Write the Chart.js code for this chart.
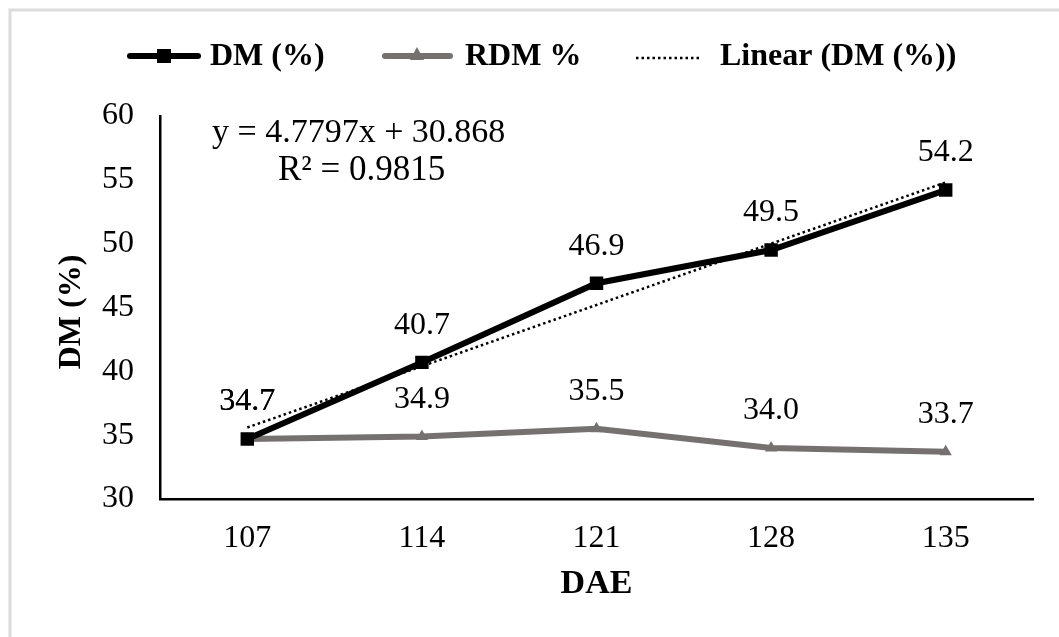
<!DOCTYPE html>
<html>
<head>
    <meta charset="UTF-8">
    <title>DM (%) by DAE</title>
    <script src="https://cdn.jsdelivr.net/npm/chart.js"></script>
    <style>
        body { margin: 0; background: #fff; }
        #wrap { width: 1059px; height: 637px; position: relative; }
    </style>
</head>
<body>
    <div id="wrap">
        <canvas id="myChart" width="1059" height="637"></canvas>
    </div>

    <script>
        // values
        const dae = ['107', '114', '121', '128', '135'];
        const dmValues = [34.7, 40.7, 46.9, 49.5, 54.2];
        const rdmValues = [34.7, 34.9, 35.5, 34.0, 33.7];
        const trendValues = [35.6, 40.4, 45.2, 50.0, 54.8];
        const yTicks = [30, 35, 40, 45, 50, 55, 60];
        const equationLines = ['y = 4.7797x + 30.868', 'R² = 0.9815'];

        const serif = '"Liberation Serif", "Times New Roman", serif';
        const gray = '#767171';

        const extras = {
            id: 'extras',
            afterDraw: (chart) => {
                const { ctx, chartArea } = chart;
                ctx.save();

                // frame (top and left edges only visible)
                ctx.strokeStyle = '#dcdcdc';
                ctx.lineWidth = 3;
                ctx.beginPath();
                ctx.moveTo(10, 637);
                ctx.lineTo(10, 10);
                ctx.lineTo(1059, 10);
                ctx.stroke();

                // data labels
                ctx.fillStyle = '#000';
                ctx.font = '32px ' + serif;
                ctx.textAlign = 'center';
                ctx.textBaseline = 'middle';
                [1, 0].forEach(i => {
                    const meta = chart.getDatasetMeta(i);
                    meta.data.forEach((pt, j) => {
                        const v = chart.data.datasets[i].data[j];
                        ctx.fillText(v.toFixed(1), pt.x, pt.y - 37);
                    });
                });

                // trendline equation
                ctx.textAlign = 'left';
                ctx.font = '34px ' + serif;
                ctx.fillText(equationLines[0], 212, 133);
                ctx.font = '35px ' + serif;
                ctx.fillText(equationLines[1], 278, 171);

                // axis titles
                ctx.font = 'bold 34px ' + serif;
                ctx.textAlign = 'center';
                ctx.fillText('DAE', (chartArea.left + chartArea.right) / 2, 584);
                ctx.font = 'bold 32px ' + serif;
                ctx.save();
                ctx.translate(72, 312);
                ctx.rotate(-Math.PI / 2);
                ctx.fillText('DM (%)', 0, 0);
                ctx.restore();

                // legend
                const ly = 56;
                ctx.lineCap = 'round';
                ctx.lineWidth = 6;
                ctx.strokeStyle = '#000';
                ctx.beginPath(); ctx.moveTo(130, ly); ctx.lineTo(198, ly); ctx.stroke();
                ctx.fillStyle = '#000';
                ctx.fillRect(157, ly - 7, 14, 14);

                ctx.strokeStyle = gray;
                ctx.beginPath(); ctx.moveTo(385, ly); ctx.lineTo(450, ly); ctx.stroke();
                ctx.fillStyle = gray;
                ctx.beginPath();
                ctx.moveTo(417, ly - 9); ctx.lineTo(424, ly + 4); ctx.lineTo(410, ly + 4);
                ctx.closePath(); ctx.fill();

                ctx.lineCap = 'butt';
                ctx.lineWidth = 2.5;
                ctx.strokeStyle = '#000';
                ctx.setLineDash([2.5, 3]);
                ctx.beginPath(); ctx.moveTo(636, ly + 2); ctx.lineTo(700, ly + 2); ctx.stroke();
                ctx.setLineDash([]);

                ctx.fillStyle = '#000';
                ctx.font = 'bold 32px ' + serif;
                ctx.textAlign = 'left';
                ctx.fillText('DM (%)', 210, ly + 1);
                ctx.fillText('RDM %', 465, ly + 1);
                ctx.fillText('Linear (DM (%))', 720, ly + 1);

                ctx.restore();
            }
        };

        new Chart(document.getElementById('myChart'), {
            type: 'line',
            data: {
                labels: dae,
                datasets: [
                    {
                        label: 'DM (%)',
                        data: dmValues,
                        borderColor: '#000',
                        backgroundColor: '#000',
                        borderWidth: 6,
                        pointStyle: 'rect',
                        pointRadius: 9.5,
                        pointBorderWidth: 0,
                        order: 1
                    },
                    {
                        label: 'RDM %',
                        data: rdmValues,
                        borderColor: gray,
                        backgroundColor: gray,
                        borderWidth: 6,
                        pointStyle: 'triangle',
                        pointRadius: 7,
                        pointBorderWidth: 0,
                        order: 2
                    },
                    {
                        label: 'Linear (DM (%))',
                        data: trendValues,
                        borderColor: '#000',
                        borderWidth: 2.5,
                        borderDash: [2.5, 3],
                        pointRadius: 0,
                        order: 0
                    }
                ]
            },
            options: {
                responsive: false,
                animation: false,
                events: [],
                layout: { padding: { top: 116, right: 26, left: 0, bottom: 0 } },
                plugins: {
                    legend: { display: false },
                    tooltip: { enabled: false }
                },
                scales: {
                    x: {
                        offset: true,
                        grid: { display: false, drawTicks: false },
                        border: { display: true, color: '#000', width: 2.5 },
                        ticks: {
                            color: '#000',
                            font: { family: serif, size: 32 },
                            padding: 20
                        },
                        afterFit: (scale) => { scale.height = 138; }
                    },
                    y: {
                        min: 30,
                        max: 60,
                        grid: { display: false, drawTicks: false },
                        border: { display: true, color: '#000', width: 2.5 },
                        afterBuildTicks: (scale) => {
                            scale.ticks = yTicks.map(v => ({ value: v }));
                        },
                        ticks: {
                            color: '#000',
                            font: { family: serif, size: 32 },
                            padding: 26
                        },
                        afterFit: (scale) => { scale.width = 160; }
                    }
                }
            },
            plugins: [extras]
        });
    </script>
</body>
</html>
